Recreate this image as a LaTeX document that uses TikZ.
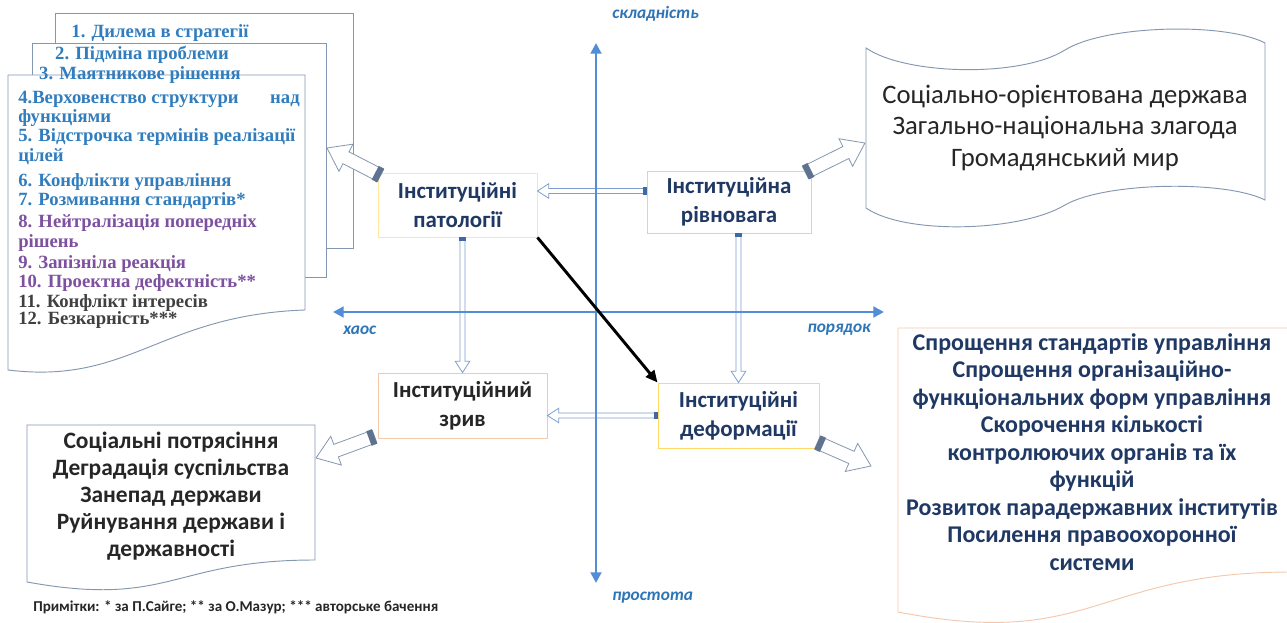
\documentclass[tikz,border=0pt]{standalone}
\usepackage{fontspec}
\newfontfamily\carlito{Carlito}
\newfontfamily\libser{Liberation Serif}
\usetikzlibrary{arrows.meta,calc}
\definecolor{axisblue}{RGB}{83,141,213}
\definecolor{labblue}{RGB}{46,117,182}
\definecolor{navy}{RGB}{31,56,100}
\definecolor{txtdark}{RGB}{38,38,38}
\definecolor{listblue}{RGB}{49,125,190}
\definecolor{listpurple}{RGB}{125,80,160}
\definecolor{listgray}{RGB}{64,64,64}
\definecolor{pageline}{RGB}{132,151,176}
\definecolor{arrline}{RGB}{127,159,207}
\definecolor{arrcapcol}{RGB}{63,105,165}
\definecolor{fatline}{RGB}{132,151,176}
\definecolor{fatcapcol}{RGB}{95,115,145}
\definecolor{yelline}{RGB}{255,230,153}
\definecolor{greenline}{RGB}{197,224,180}
\definecolor{peachline}{RGB}{244,200,170}
\definecolor{goldline}{RGB}{255,217,102}
\newcommand\fnBox{\carlito\bfseries\fontsize{17.2}{21.75}\selectfont}
\newcommand\fnList{\libser\bfseries\fontsize{14}{15}\selectfont}
\newcommand\fnAx{\carlito\bfseries\itshape\fontsize{13}{15}\selectfont}
\newcommand\fnRT{\carlito\fontsize{20}{23.6}\selectfont}
\newcommand\fnDoc{\carlito\bfseries\fontsize{18}{20.6}\selectfont}
\newcommand\fnBL{\carlito\bfseries\fontsize{17.6}{20.25}\selectfont}
\newcommand\fnNote{\carlito\bfseries\fontsize{11.3}{12}\selectfont}
\tikzset{
  cbox/.style={draw, line width=0.7pt, fill=white, align=center, inner sep=0pt, font=\fnBox},
  listitem/.style={inner sep=0pt, font=\fnList},
  axlabel/.style={inner sep=0pt, font=\fnAx, text=labblue},
  page/.style={draw=pageline, line width=0.7pt, fill=white},
  axisline/.style={draw=axisblue, line width=2.2pt, {Triangle[length=8pt,width=8pt]}-{Triangle[length=8pt,width=8pt]}},
  thinarr/.style={draw=arrline, line width=0.6pt, fill=white},
  thincap/.style={fill=arrcapcol},
  fatarr/.style={draw=fatline, line width=0.6pt, fill=white},
  fatcap/.style={fill=fatcapcol},
  blackarr/.style={draw=black, line width=2.2pt, -{Triangle[length=9pt,width=8pt]}},
  doctext/.style={align=center, inner sep=0pt},
}
% #1 body style, #2 cap style, #3 from, #4 to, #5 shaft half, #6 head half, #7 head length, #8 cap length (pt)
\newcommand\blockarrow[8]{%
  \path[#1] let \p1=(#3), \p2=(#4), \n1={atan2(\y2-\y1,\x2-\x1)}, \n2={veclen(\x2-\x1,\y2-\y1)} in
    [shift={(\x1,\y1)}, rotate=\n1]
    (0pt,{-#5*1pt}) -- ({(\n2-#7)*1pt},{-#5*1pt}) -- ({(\n2-#7)*1pt},{-#6*1pt})
    -- ({\n2*1pt},0pt) -- ({(\n2-#7)*1pt},{#6*1pt}) -- ({(\n2-#7)*1pt},{#5*1pt})
    -- (0pt,{#5*1pt}) -- cycle;
  \path[#2] let \p1=(#3), \p2=(#4), \n1={atan2(\y2-\y1,\x2-\x1)} in
    [shift={(\x1,\y1)}, rotate=\n1]
    (0pt,{-(#5+0.8)*1pt}) rectangle ({#8*1pt},{(#5+0.8)*1pt});
}
\begin{document}
\begin{tikzpicture}[x=0.75pt,y=-0.75pt]
\useasboundingbox (0,0) rectangle (1287,623);
\fill[white] (0,0) rectangle (1287,623);

% stacked pages of the list
\path[page] (55,13) rectangle (353,248);
\path[page] (32,43) rectangle (326,277);
\path[page] (8,75) -- (305,75) -- (305,310) .. controls (160,315) and (130,385) .. (8,370) -- cycle;

% list items
\node[listitem, text=listblue, anchor=base] (li1) at (160,38) {1. Дилема в стратегії};
\node[listitem, text=listblue, anchor=base] (li2) at (142,60) {2. Підміна проблеми};
\node[listitem, text=listblue, anchor=base] (li3) at (140,80) {3. Маятникове рішення};
\node[listitem, text=listblue, anchor=base west] (li4a) at (18,104) {4.Верховенство структури};
\node[listitem, text=listblue, anchor=base east] (li4b) at (300,104) {над};
\node[listitem, text=listblue, anchor=base west] (li4c) at (18,123) {функціями};
\node[listitem, text=listblue, anchor=base west] (li5a) at (18,142) {5. Відстрочка термінів реалізації};
\node[listitem, text=listblue, anchor=base west] (li5b) at (18,162) {цілей};
\node[listitem, text=listblue, anchor=base west] (li6) at (18,187) {6. Конфлікти управління};
\node[listitem, text=listblue, anchor=base west] (li7) at (18,206) {7. Розмивання стандартів*};
\node[listitem, text=listpurple, anchor=base west] (li8a) at (18,228) {8. Нейтралізація попередніх};
\node[listitem, text=listpurple, anchor=base west] (li8b) at (18,248) {рішень};
\node[listitem, text=listpurple, anchor=base west] (li9) at (18,269) {9. Запізніла реакція};
\node[listitem, text=listpurple, anchor=base west] (li10) at (18,288) {10. Проектна дефектність**};
\node[listitem, text=listgray, anchor=base west] (li11) at (18,307) {11. Конфлікт інтересів};
\node[listitem, text=listgray, anchor=base west] (li12) at (18,325) {12. Безкарність***};

% right-top wavy shape
\path[draw=pageline, line width=0.7pt, fill=white]
  (866,48) .. controls (905,75) and (1020,78) .. (1065,50)
  .. controls (1105,25) and (1225,22) .. (1265,43)
  -- (1265,200) .. controls (1225,180) and (1105,182) .. (1065,205)
  .. controls (1020,232) and (905,235) .. (866,208) -- cycle;
\node[doctext, font=\fnRT, text=txtdark] (rt) at (1065,128)
  {Соціально-орієнтована держава\\Загально-національна злагода\\Громадянський мир};

% right-bottom document
\path[draw=peachline, line width=0.7pt, fill=white]
  (898,328) -- (1292,328) -- (1292,572) .. controls (1094,572) and (1094,650) .. (898,612) -- cycle;
\node[doctext, font=\fnDoc, text=navy] (rb) at (1092,452)
  {Спрощення стандартів управління\\Спрощення організаційно-\\функціональних форм управління\\Скорочення кількості\\контролюючих органів та їх\\функцій\\Розвиток парадержавних інститутів\\Посилення правоохоронної\\системи};

% bottom-left document
\path[draw=pageline, line width=0.7pt, fill=white]
  (27,425) -- (315,425) -- (315,560) .. controls (171,560) and (171,608) .. (27,582) -- cycle;
\node[doctext, font=\fnBL, text=txtdark] (bl) at (171,496)
  {Соціальні потрясіння\\Деградація суспільства\\Занепад держави\\Руйнування держави і\\державності};

% central boxes
\node[cbox, draw=yelline, text=navy, minimum width=119.25pt, minimum height=48pt] (pat) at (457.5,205) {Інституційні\\патології};
\node[cbox, draw=greenline, text=navy, minimum width=123pt, minimum height=46.5pt] (riv) at (729,202) {Інституційна\\рівновага};
\node[cbox, draw=peachline, text=txtdark, minimum width=126.75pt, minimum height=48.75pt] (zryv) at (462.5,405.5) {Інституційний\\зрив};
\node[cbox, draw=goldline, text=navy, minimum width=120.75pt, minimum height=48.75pt] (def) at (738.5,415.5) {Інституційні\\деформації};

% thin hollow arrows
\coordinate (rp1) at ($(riv.west)+(0,-11)$);
\coordinate (rp2) at (pat.east |- rp1);
\coordinate (pz1) at (pat.south -| zryv.north);
\coordinate (rd1) at (riv.south -| def.north);
\coordinate (dz2) at (zryv.east |- def.west);
\blockarrow{thinarr}{thincap}{rp1}{rp2}{1.9}{5.5}{8.5}{2.5}
\blockarrow{thinarr}{thincap}{pz1}{zryv.north}{1.9}{5.5}{8.5}{2.5}
\blockarrow{thinarr}{thincap}{rd1}{def.north}{1.9}{5.5}{8.5}{2.5}
\blockarrow{thinarr}{thincap}{def.west}{dz2}{1.9}{5.5}{8.5}{2.5}

% fat hollow arrows
\coordinate (a1s) at ($(pat.north west)+(3,3)$);
\coordinate (a1e) at (327,148);
\coordinate (a2s) at ($(riv.north east)+(-6,2)$);
\coordinate (a2e) at (865,143);
\coordinate (a3s) at ($(zryv.south west)+(-3,-2)$);
\coordinate (a3e) at (316,458);
\coordinate (a4s) at ($(def.south east)+(-2,-6)$);
\coordinate (a4e) at (871,466);
\blockarrow{fatarr}{fatcap}{a1s}{a1e}{5}{11.5}{16}{4.5}
\blockarrow{fatarr}{fatcap}{a2s}{a2e}{5}{11.5}{16}{4.5}
\blockarrow{fatarr}{fatcap}{a3s}{a3e}{5}{11.5}{16}{4.5}
\blockarrow{fatarr}{fatcap}{a4s}{a4e}{5}{11.5}{16}{4.5}

% axes
\coordinate (vtop) at (596,43);
\coordinate (vbot) at (596,583);
\coordinate (hlft) at (333,312);
\coordinate (hrgt) at (884,312);
\draw[axisline] (vbot) -- (vtop);
\draw[axisline] (hlft) -- (hrgt);

% black arrow
\draw[blackarr] (pat.south east) -- (def.north west);

% axis labels
\node[axlabel, anchor=west] (lsk) at (612,14) {складність};
\node[axlabel, anchor=west] (lpr) at (612,598) {простота};
\node[axlabel, anchor=west] (lxa) at (343,330) {хаос};
\node[axlabel, anchor=east] (lpo) at (871,330) {порядок};

% note
\node[font=\fnNote, text=txtdark, anchor=west, inner sep=0pt] (note) at (33,607)
  {Примітки: * за П.Сайге; ** за О.Мазур; *** авторське бачення};
\end{tikzpicture}
\end{document}
